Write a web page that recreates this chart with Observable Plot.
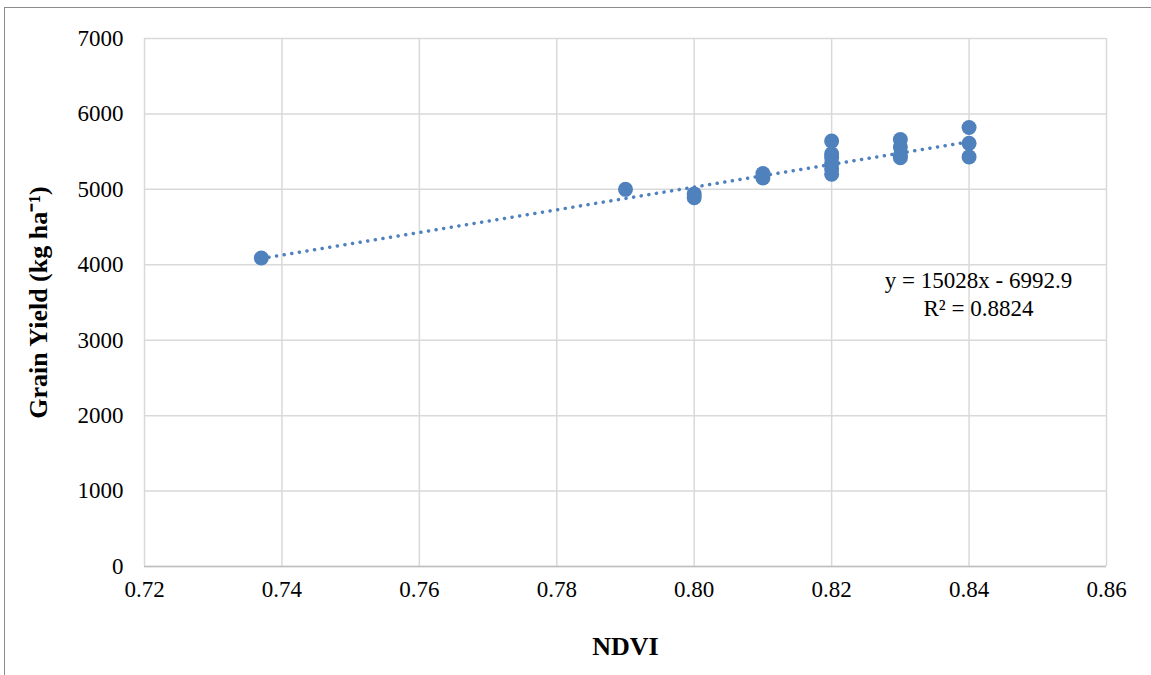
<!DOCTYPE html>
<html>
<head>
<meta charset="utf-8">
<script src="https://cdn.jsdelivr.net/npm/d3@7"></script>
<script src="https://cdn.jsdelivr.net/npm/@observablehq/plot@0.6"></script>
<style>
  html, body { margin: 0; padding: 0; background: #fff; }
  #wrap { position: relative; width: 1151px; height: 675px; overflow: hidden; }
  #border { position: absolute; left: 4px; top: 7px; width: 1200px; height: 700px;
            border-left: 1.5px solid #8c8c8c; border-top: 1.5px solid #8c8c8c; pointer-events: none; }
  #chart { position: absolute; left: 0; top: 0; }
</style>
</head>
<body>
<div id="wrap"><div id="chart"></div><div id="border"></div></div>
<script>
// Data
const ndvi = [0.737, 0.79, 0.80, 0.80, 0.81, 0.81, 0.82, 0.82, 0.82, 0.82, 0.82, 0.82, 0.83, 0.83, 0.83, 0.83, 0.84, 0.84, 0.84];
const grainYield = [4090, 5000, 4940, 4890, 5210, 5150, 5640, 5470, 5420, 5340, 5270, 5200, 5660, 5560, 5450, 5420, 5820, 5610, 5430];
const xTicks = [0.72, 0.74, 0.76, 0.78, 0.80, 0.82, 0.84, 0.86];
const yTicks = [0, 1000, 2000, 3000, 4000, 5000, 6000, 7000];
const trendSlope = 15028;
const trendIntercept = -6992.9;
const equationLines = ["y = 15028x - 6992.9", "R² = 0.8824"];

const points = ndvi.map((x, i) => ({x, y: grainYield[i]}));
const [xMin, xMax] = d3.extent(ndvi);
const trend = [xMin, xMax].map(x => ({x, y: trendSlope * x + trendIntercept}));

const color = "#4f81bd";
const font = "'Liberation Serif', 'Times New Roman', serif";

const chart = Plot.plot({
  width: 1151,
  height: 675,
  marginLeft: 144,
  marginRight: 45,
  marginTop: 38,
  marginBottom: 109,
  style: { fontFamily: font, fontSize: "23px", color: "#000", background: "transparent" },
  x: { domain: [0.72, 0.86], ticks: xTicks },
  y: { domain: [0, 7000], ticks: yTicks },
  marks: [
    Plot.gridX(xTicks, { stroke: "#d9d9d9", strokeOpacity: 1, strokeWidth: 1.5 }),
    Plot.gridY(yTicks, { stroke: "#d9d9d9", strokeOpacity: 1, strokeWidth: 1.5 }),
    Plot.ruleY([0], { stroke: "#bfbfbf", strokeWidth: 1.5 }),
    Plot.axisX({ ticks: xTicks, tickSize: 0, tickPadding: 14, tickFormat: d3.format(".2f"),
      label: "NDVI", labelArrow: "none", labelAnchor: "center", labelOffset: 88, fontSize: 23 }),
    Plot.axisY({ ticks: yTicks, tickSize: 0, tickPadding: 21, tickFormat: d => String(d),
      label: "Grain Yield (kg ha⁻¹)", labelArrow: "none", labelAnchor: "center", labelOffset: 116, fontSize: 23 }),
    Plot.line(trend, { x: "x", y: "y", stroke: color, strokeWidth: 3.5,
      strokeDasharray: "0.1,7.6", strokeLinecap: "round" }),
    Plot.dot(points, { x: "x", y: "y", r: 7.5, fill: color, stroke: "none" }),
    Plot.text([equationLines[0]], { text: d => d, frameAnchor: "top-right", dx: -128, dy: 233,
      textAnchor: "middle", fontSize: 23, fill: "#000" }),
    Plot.text([equationLines[1]], { text: d => d, frameAnchor: "top-right", dx: -128, dy: 261,
      textAnchor: "middle", fontSize: 23, fill: "#000" })
  ]
});

// Bold axis titles
chart.querySelectorAll("[aria-label='x-axis label'] text, [aria-label='y-axis label'] text").forEach(t => {
  t.setAttribute("font-weight", "bold");
  t.setAttribute("font-size", "26");
});
document.getElementById("chart").appendChild(chart);
</script>
</body>
</html>
